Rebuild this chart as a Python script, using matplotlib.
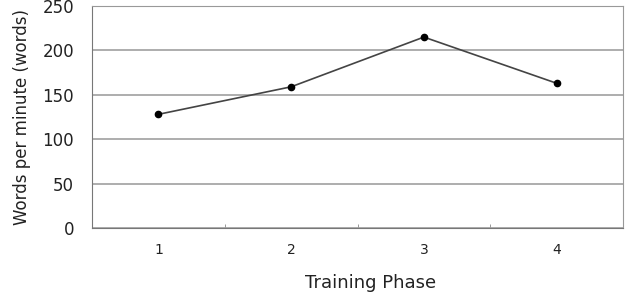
import matplotlib
matplotlib.use("Agg")
import matplotlib.pyplot as plt
from matplotlib.ticker import FixedLocator

phases = ["1", "2", "3", "4"]
wpm = [128, 159, 215, 163]
yticks = [0, 50, 100, 150, 200, 250]

plt.rcParams['font.family'] = ['DejaVu Sans']

fig = plt.figure(figsize=(6.3, 2.97), dpi=100)
ax = fig.add_axes([92 / 630, 1 - 228 / 297, (623 - 92) / 630, (228 - 6) / 297])

x = list(range(1, len(phases) + 1))
ax.plot(x, wpm, color='#444444', lw=1.2, marker='o', ms=4.5,
        mfc='black', mec='black', zorder=3)

ax.set_xlim(0.5, len(phases) + 0.5)
ax.set_ylim(0, 250)
ax.set_yticks(yticks)
ax.yaxis.grid(True, color='#a0a0a0', lw=1.2)
ax.set_axisbelow(True)

# category labels centred, tick marks between categories
ax.set_xticks(x)
ax.set_xticklabels(phases)
ax.tick_params(axis='x', length=0, pad=11, labelsize=10, labelcolor='#222222')
ax.xaxis.set_minor_locator(FixedLocator([1.5, 2.5, 3.5]))
ax.tick_params(axis='x', which='minor', direction='in', length=3,
               color='#888888')
ax.tick_params(axis='y', length=0, pad=13, labelsize=12, labelcolor='#222222')

for side in ['top', 'right']:
    ax.spines[side].set_color('#999999')
for side in ['left', 'bottom']:
    ax.spines[side].set_color('#777777')

ax.set_xlabel("Training Phase", fontsize=13, color='#222222')
ax.xaxis.set_label_coords(0.524, -0.205)
ax.set_ylabel("Words per minute (words)", fontsize=12, labelpad=8,
              color='#222222')

fig.savefig("out.png", dpi=100)
